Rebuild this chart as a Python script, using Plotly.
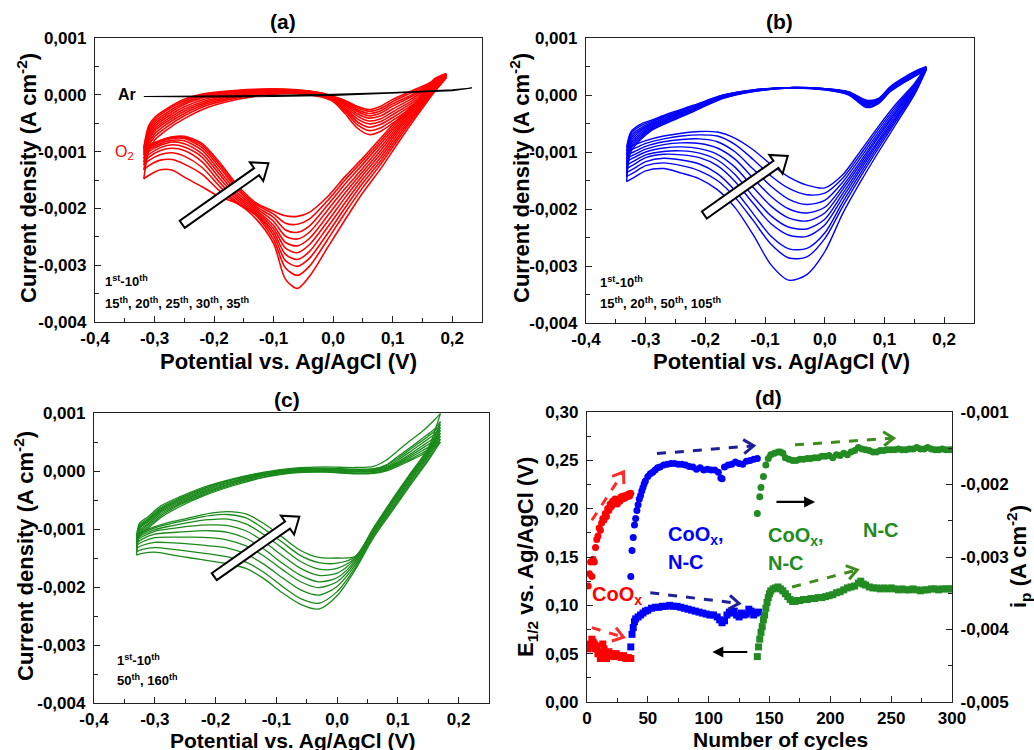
import math
import plotly.graph_objects as go

W, H = 1034, 750
FONT = "Liberation Sans, Arial, sans-serif"

# ---------------- DATA ----------------
# (a) red CVs, potentials (V) and current densities (mA cm-2)
a_E_cath = [0.19, 0.17, 0.14, 0.11, 0.08, 0.05, 0.02, -0.01, -0.04, -0.06, -0.08, -0.10, -0.13, -0.16, -0.19, -0.22, -0.25, -0.27, -0.29, -0.31, -0.318]
a_j_cath = [
    [0.30, 0.05, -0.38, -0.83, -1.30, -1.72, -2.20, -2.70, -3.20, -3.41, -3.25, -2.62, -2.18, -1.92, -1.80, -1.62, -1.45, -1.33, -1.32, -1.42, -1.48],
    [0.32, 0.08, -0.34, -0.77, -1.22, -1.63, -2.08, -2.56, -3.02, -3.18, -3.05, -2.55, -2.12, -1.92, -1.70, -1.40, -1.22, -1.14, -1.15, -1.25, -1.32],
    [0.33, 0.11, -0.31, -0.72, -1.16, -1.55, -1.99, -2.45, -2.88, -3.02, -2.92, -2.48, -2.10, -1.90, -1.62, -1.28, -1.08, -1.02, -1.05, -1.16, -1.24],
    [0.34, 0.14, -0.28, -0.67, -1.10, -1.48, -1.90, -2.34, -2.76, -2.90, -2.81, -2.42, -2.08, -1.86, -1.55, -1.18, -0.98, -0.94, -0.98, -1.10, -1.18],
    [0.35, 0.16, -0.25, -0.62, -1.04, -1.41, -1.81, -2.24, -2.64, -2.78, -2.70, -2.36, -2.05, -1.82, -1.48, -1.10, -0.92, -0.88, -0.93, -1.05, -1.12],
    [0.35, 0.19, -0.22, -0.58, -0.98, -1.35, -1.73, -2.14, -2.53, -2.66, -2.60, -2.30, -2.02, -1.78, -1.41, -1.04, -0.86, -0.83, -0.89, -1.00, -1.06],
    [0.36, 0.21, -0.19, -0.54, -0.92, -1.29, -1.65, -2.04, -2.42, -2.54, -2.49, -2.23, -1.99, -1.73, -1.35, -0.98, -0.81, -0.80, -0.86, -0.96, -1.02],
    [0.36, 0.23, -0.17, -0.50, -0.86, -1.22, -1.57, -1.95, -2.31, -2.42, -2.38, -2.16, -1.96, -1.68, -1.29, -0.93, -0.77, -0.77, -0.83, -0.93, -0.98],
    [0.37, 0.26, -0.14, -0.46, -0.81, -1.16, -1.50, -1.87, -2.19, -2.28, -2.26, -2.10, -1.93, -1.64, -1.24, -0.89, -0.75, -0.75, -0.81, -0.91, -0.95],
    [0.37, 0.28, -0.12, -0.42, -0.76, -1.11, -1.44, -1.80, -2.07, -2.14, -2.13, -2.05, -1.90, -1.60, -1.20, -0.86, -0.73, -0.74, -0.80, -0.89, -0.93],
]
a_E_anod = [-0.318, -0.31, -0.30, -0.28, -0.25, -0.21, -0.16, -0.11, -0.06, -0.02, 0.0, 0.02, 0.04, 0.06, 0.08, 0.10, 0.13, 0.16, 0.19]
a_j_anod = [
    [-1.48, -1.00, -0.80, -0.62, -0.42, -0.22, -0.08, 0.00, 0.02, -0.04, -0.12, -0.33, -0.58, -0.70, -0.64, -0.50, -0.30, -0.05, 0.30],
    [-1.32, -0.92, -0.74, -0.57, -0.37, -0.18, -0.05, 0.02, 0.03, -0.02, -0.10, -0.29, -0.52, -0.63, -0.58, -0.45, -0.25, -0.01, 0.32],
    [-1.24, -0.86, -0.69, -0.52, -0.33, -0.15, -0.03, 0.04, 0.04, -0.01, -0.09, -0.26, -0.47, -0.57, -0.52, -0.40, -0.20, 0.03, 0.33],
    [-1.18, -0.81, -0.64, -0.48, -0.29, -0.12, -0.01, 0.05, 0.05, 0.00, -0.08, -0.23, -0.42, -0.51, -0.47, -0.35, -0.16, 0.06, 0.34],
    [-1.12, -0.76, -0.60, -0.44, -0.25, -0.09, 0.01, 0.06, 0.06, 0.01, -0.07, -0.20, -0.37, -0.46, -0.42, -0.30, -0.12, 0.09, 0.35],
    [-1.06, -0.71, -0.56, -0.40, -0.21, -0.06, 0.03, 0.07, 0.07, 0.01, -0.06, -0.17, -0.33, -0.41, -0.37, -0.25, -0.08, 0.12, 0.35],
    [-1.02, -0.67, -0.52, -0.36, -0.17, -0.03, 0.05, 0.08, 0.07, 0.02, -0.05, -0.15, -0.29, -0.37, -0.32, -0.20, -0.04, 0.14, 0.36],
    [-0.98, -0.63, -0.48, -0.32, -0.14, -0.01, 0.06, 0.09, 0.08, 0.02, -0.04, -0.13, -0.26, -0.33, -0.28, -0.16, -0.01, 0.16, 0.36],
    [-0.95, -0.59, -0.44, -0.28, -0.11, 0.01, 0.07, 0.10, 0.08, 0.03, -0.03, -0.11, -0.23, -0.29, -0.24, -0.12, 0.03, 0.18, 0.37],
    [-0.93, -0.55, -0.40, -0.25, -0.08, 0.03, 0.08, 0.10, 0.09, 0.03, -0.03, -0.10, -0.20, -0.26, -0.20, -0.08, 0.06, 0.20, 0.37],
]
ar_E = [-0.318, -0.2, -0.1, 0.0, 0.1, 0.2, 0.233, 0.2, 0.1, 0.0, -0.1, -0.2, -0.318]
ar_j = [-0.03, -0.02, -0.01, 0.01, 0.04, 0.09, 0.12, 0.07, 0.03, -0.01, -0.03, -0.04, -0.03]

# (b) blue CVs
b_E_cath = [0.17, 0.15, 0.12, 0.09, 0.06, 0.03, 0.0, -0.03, -0.06, -0.09, -0.12, -0.15, -0.18, -0.21, -0.24, -0.27, -0.30, -0.32, -0.332]
b_j_cath = [
    [0.44, 0.00, -0.50, -1.00, -1.52, -2.08, -2.75, -3.15, -3.25, -2.98, -2.45, -1.98, -1.66, -1.47, -1.37, -1.29, -1.33, -1.45, -1.52],
    [0.45, 0.03, -0.45, -0.93, -1.43, -1.96, -2.52, -2.84, -2.86, -2.62, -2.20, -1.80, -1.50, -1.33, -1.24, -1.19, -1.24, -1.36, -1.43],
    [0.46, 0.06, -0.41, -0.88, -1.37, -1.88, -2.42, -2.69, -2.70, -2.48, -2.08, -1.68, -1.38, -1.21, -1.14, -1.11, -1.17, -1.29, -1.36],
    [0.47, 0.08, -0.38, -0.83, -1.31, -1.80, -2.28, -2.48, -2.46, -2.26, -1.90, -1.52, -1.24, -1.10, -1.05, -1.04, -1.10, -1.22, -1.29],
    [0.47, 0.10, -0.34, -0.79, -1.26, -1.73, -2.18, -2.35, -2.32, -2.12, -1.78, -1.40, -1.14, -1.02, -0.98, -0.99, -1.05, -1.16, -1.23],
    [0.48, 0.12, -0.30, -0.74, -1.21, -1.66, -2.07, -2.21, -2.16, -1.95, -1.62, -1.27, -1.04, -0.94, -0.91, -0.93, -1.00, -1.10, -1.17],
    [0.48, 0.14, -0.27, -0.70, -1.16, -1.60, -1.97, -2.07, -2.00, -1.78, -1.46, -1.13, -0.93, -0.85, -0.84, -0.87, -0.95, -1.05, -1.11],
    [0.49, 0.16, -0.23, -0.65, -1.10, -1.53, -1.85, -1.92, -1.83, -1.60, -1.30, -1.00, -0.82, -0.77, -0.78, -0.82, -0.90, -1.00, -1.05],
    [0.49, 0.18, -0.19, -0.60, -1.04, -1.46, -1.72, -1.75, -1.64, -1.42, -1.13, -0.87, -0.72, -0.70, -0.72, -0.77, -0.85, -0.94, -0.98],
    [0.50, 0.20, -0.15, -0.55, -0.98, -1.40, -1.63, -1.58, -1.44, -1.22, -0.96, -0.76, -0.65, -0.64, -0.67, -0.72, -0.80, -0.88, -0.92],
]
b_E_anod = [-0.332, -0.325, -0.31, -0.29, -0.26, -0.22, -0.17, -0.12, -0.06, 0.0, 0.04, 0.07, 0.09, 0.11, 0.13, 0.15, 0.17]
b_j_anod = [
    [-1.52, -1.00, -0.80, -0.62, -0.47, -0.29, -0.06, 0.06, 0.12, 0.09, 0.00, -0.22, -0.15, 0.06, 0.20, 0.32, 0.44],
    [-1.43, -0.95, -0.77, -0.60, -0.45, -0.28, -0.05, 0.06, 0.12, 0.09, 0.01, -0.20, -0.14, 0.07, 0.21, 0.33, 0.45],
    [-1.36, -0.91, -0.74, -0.58, -0.43, -0.26, -0.05, 0.07, 0.12, 0.10, 0.02, -0.18, -0.13, 0.08, 0.22, 0.34, 0.46],
    [-1.29, -0.87, -0.71, -0.56, -0.41, -0.25, -0.04, 0.07, 0.12, 0.10, 0.02, -0.17, -0.12, 0.09, 0.23, 0.35, 0.47],
    [-1.23, -0.84, -0.68, -0.54, -0.40, -0.24, -0.03, 0.07, 0.12, 0.10, 0.03, -0.15, -0.11, 0.10, 0.24, 0.36, 0.47],
    [-1.17, -0.80, -0.65, -0.52, -0.38, -0.23, -0.03, 0.08, 0.13, 0.10, 0.03, -0.14, -0.10, 0.11, 0.25, 0.37, 0.48],
    [-1.11, -0.76, -0.62, -0.50, -0.37, -0.22, -0.02, 0.08, 0.13, 0.11, 0.04, -0.13, -0.09, 0.12, 0.26, 0.38, 0.48],
    [-1.05, -0.72, -0.59, -0.48, -0.35, -0.20, -0.01, 0.08, 0.13, 0.11, 0.05, -0.11, -0.08, 0.13, 0.27, 0.39, 0.49],
    [-0.98, -0.68, -0.55, -0.46, -0.34, -0.19, 0.00, 0.09, 0.13, 0.11, 0.05, -0.10, -0.07, 0.14, 0.28, 0.40, 0.49],
    [-0.92, -0.65, -0.52, -0.44, -0.32, -0.18, 0.00, 0.09, 0.13, 0.11, 0.06, -0.09, -0.06, 0.15, 0.29, 0.41, 0.50],
]

# (c) green CVs
c_E_cath = [0.17, 0.15, 0.12, 0.09, 0.06, 0.03, 0.0, -0.03, -0.06, -0.09, -0.12, -0.15, -0.18, -0.21, -0.24, -0.27, -0.30, -0.32, -0.33]
c_j_cath = [
    [0.50, 0.18, -0.25, -0.70, -1.15, -1.70, -2.15, -2.38, -2.30, -2.10, -1.86, -1.68, -1.60, -1.55, -1.50, -1.45, -1.40, -1.42, -1.45],
    [0.55, 0.20, -0.22, -0.67, -1.12, -1.66, -2.08, -2.28, -2.20, -1.99, -1.75, -1.57, -1.48, -1.43, -1.39, -1.35, -1.32, -1.35, -1.39],
    [0.60, 0.24, -0.19, -0.64, -1.10, -1.62, -1.99, -2.14, -2.05, -1.84, -1.61, -1.43, -1.33, -1.29, -1.26, -1.24, -1.23, -1.28, -1.33],
    [0.65, 0.27, -0.16, -0.61, -1.07, -1.58, -1.91, -2.01, -1.91, -1.70, -1.47, -1.29, -1.19, -1.15, -1.14, -1.14, -1.15, -1.22, -1.28],
    [0.70, 0.30, -0.14, -0.59, -1.05, -1.55, -1.84, -1.91, -1.80, -1.59, -1.35, -1.16, -1.06, -1.03, -1.04, -1.06, -1.09, -1.17, -1.24],
    [0.75, 0.32, -0.11, -0.56, -1.03, -1.52, -1.76, -1.80, -1.68, -1.46, -1.22, -1.03, -0.94, -0.93, -0.95, -0.99, -1.04, -1.13, -1.20],
    [0.85, 0.35, -0.09, -0.54, -1.01, -1.50, -1.68, -1.69, -1.56, -1.33, -1.10, -0.91, -0.83, -0.84, -0.88, -0.94, -1.01, -1.10, -1.17],
    [0.80, 0.37, -0.07, -0.52, -0.99, -1.48, -1.59, -1.58, -1.46, -1.23, -1.00, -0.81, -0.75, -0.77, -0.83, -0.90, -0.98, -1.07, -1.14],
    [0.99, 0.40, -0.05, -0.50, -0.98, -1.47, -1.50, -1.49, -1.37, -1.14, -0.91, -0.74, -0.70, -0.73, -0.80, -0.87, -0.96, -1.05, -1.12],
]
c_E_anod = [-0.33, -0.325, -0.31, -0.29, -0.26, -0.22, -0.17, -0.12, -0.07, -0.02, 0.03, 0.06, 0.08, 0.10, 0.12, 0.14, 0.16, 0.17]
c_j_anod = [
    [-1.45, -1.12, -0.98, -0.80, -0.62, -0.43, -0.25, -0.11, -0.03, -0.02, -0.05, -0.04, 0.00, 0.08, 0.18, 0.28, 0.40, 0.50],
    [-1.39, -1.08, -0.95, -0.77, -0.59, -0.41, -0.23, -0.10, -0.02, -0.01, -0.04, -0.03, 0.01, 0.10, 0.20, 0.31, 0.44, 0.55],
    [-1.33, -1.05, -0.92, -0.74, -0.57, -0.39, -0.21, -0.08, -0.01, 0.00, -0.02, -0.01, 0.03, 0.12, 0.23, 0.35, 0.48, 0.60],
    [-1.28, -1.02, -0.90, -0.71, -0.55, -0.37, -0.20, -0.07, 0.00, 0.01, -0.01, 0.00, 0.04, 0.14, 0.26, 0.39, 0.53, 0.65],
    [-1.24, -0.99, -0.87, -0.69, -0.53, -0.35, -0.18, -0.06, 0.01, 0.02, 0.00, 0.01, 0.05, 0.16, 0.29, 0.43, 0.58, 0.70],
    [-1.20, -0.97, -0.85, -0.67, -0.51, -0.33, -0.17, -0.05, 0.02, 0.03, 0.01, 0.02, 0.07, 0.19, 0.33, 0.48, 0.63, 0.75],
    [-1.17, -0.95, -0.83, -0.65, -0.49, -0.31, -0.15, -0.04, 0.03, 0.04, 0.02, 0.03, 0.10, 0.25, 0.40, 0.56, 0.72, 0.85],
    [-1.14, -0.93, -0.81, -0.63, -0.47, -0.30, -0.14, -0.03, 0.04, 0.05, 0.03, 0.04, 0.09, 0.22, 0.37, 0.52, 0.68, 0.80],
    [-1.12, -0.90, -0.78, -0.60, -0.45, -0.28, -0.13, -0.02, 0.05, 0.07, 0.06, 0.08, 0.18, 0.35, 0.52, 0.68, 0.88, 0.99],
]

# (d) peak current i_p (mA cm-2, circles, right axis) and E1/2 (V, squares, left axis)
red_ip_n = list(range(1, 37))
red_ip = [-3.40, -3.23, -3.07, -3.27, -3.03, -3.07, -2.87, -2.76, -2.71, -2.60, -2.63, -2.53, -2.47, -2.49, -2.40, -2.44,
          -2.33, -2.36, -2.27, -2.31, -2.23, -2.27, -2.20, -2.24, -2.27, -2.20, -2.23, -2.17, -2.20, -2.16, -2.19, -2.15,
          -2.17, -2.13, -2.16, -2.12]
blue_ip_n = [36, 37, 38, 39, 40, 41, 42, 43, 44, 45, 46, 47, 48, 50, 52, 54, 56, 58, 60, 63, 66, 69, 72, 75, 78, 81, 84,
             87, 90, 93, 96, 99, 102, 105, 108, 110, 111, 113, 116, 119, 122, 125, 128, 131, 134, 137, 140]
blue_ip = [-3.27, -2.91, -2.73, -2.56, -2.47, -2.36, -2.28, -2.20, -2.15, -2.09, -2.04, -1.99, -1.95, -1.89, -1.85, -1.83,
           -1.80, -1.77, -1.76, -1.73, -1.72, -1.71, -1.71, -1.72, -1.72, -1.73, -1.75, -1.76, -1.79, -1.77, -1.80, -1.79,
           -1.80, -1.80, -1.83, -1.91, -1.92, -1.76, -1.73, -1.72, -1.69, -1.71, -1.72, -1.68, -1.67, -1.65, -1.64]
green_ip_n = [140, 142, 143, 145, 147, 149, 151, 154, 157, 159, 161, 163, 166, 169, 172, 175, 178, 181, 184, 187, 190,
              193, 196, 199, 202, 205, 208, 211, 214, 217, 220, 223, 226, 229, 232, 235, 238, 241, 244, 247, 250, 253,
              256, 259, 262, 265, 268, 271, 274, 277, 280, 283, 286, 289, 292, 295, 298, 300]
green_ip = [-2.40, -2.17, -2.04, -1.89, -1.73, -1.64, -1.59, -1.57, -1.55, -1.55, -1.57, -1.63, -1.65, -1.67, -1.67, -1.65,
            -1.65, -1.64, -1.64, -1.63, -1.63, -1.61, -1.61, -1.60, -1.63, -1.59, -1.60, -1.57, -1.59, -1.55, -1.53, -1.49,
            -1.51, -1.52, -1.53, -1.55, -1.55, -1.53, -1.53, -1.52, -1.52, -1.52, -1.51, -1.52, -1.52, -1.51, -1.51, -1.49,
            -1.51, -1.51, -1.49, -1.51, -1.52, -1.52, -1.51, -1.52, -1.52, -1.52]
red_e_n = [1, 2, 3, 4, 5, 6, 7, 8, 9, 10, 11, 12, 13, 14, 15, 16, 17, 18, 19, 20, 22, 24, 26, 28, 30, 32, 34, 36]
red_e = [0.055, 0.060, 0.058, 0.065, 0.062, 0.060, 0.055, 0.058, 0.050, 0.052, 0.045, 0.048, 0.060, 0.055, 0.050, 0.045,
         0.050, 0.052, 0.048, 0.050, 0.047, 0.050, 0.048, 0.046, 0.048, 0.045, 0.046, 0.045]
blue_e_n = [36, 37, 38, 39, 40, 42, 44, 46, 48, 50, 53, 56, 59, 62, 65, 68, 71, 74, 77, 80, 83, 86, 89, 92, 95, 98, 101,
            104, 107, 109, 111, 113, 115, 117, 119, 121, 123, 125, 127, 129, 131, 133, 135, 137, 139, 141]
blue_e = [0.057, 0.070, 0.077, 0.083, 0.086, 0.088, 0.090, 0.092, 0.094, 0.095, 0.097, 0.098, 0.098, 0.099, 0.099, 0.100,
          0.099, 0.099, 0.098, 0.097, 0.096, 0.095, 0.094, 0.093, 0.092, 0.091, 0.090, 0.090, 0.088, 0.085, 0.082, 0.084,
          0.090, 0.093, 0.092, 0.094, 0.090, 0.088, 0.092, 0.090, 0.091, 0.096, 0.094, 0.090, 0.092, 0.093]
green_e_n = [140, 141, 142, 143, 144, 145, 146, 147, 148, 149, 150, 151, 153, 155, 157, 159, 161, 163, 165, 167, 169, 171,
             173, 175, 178, 181, 184, 187, 190, 193, 196, 199, 202, 205, 208, 211, 214, 217, 220, 223, 225, 227, 229, 232,
             235, 238, 241, 244, 247, 250, 253, 256, 259, 262, 265, 268, 271, 274, 277, 280, 283, 286, 289, 292, 295, 298, 300]
green_e = [0.047, 0.057, 0.065, 0.072, 0.078, 0.085, 0.090, 0.097, 0.103, 0.108, 0.112, 0.115, 0.117, 0.118, 0.119, 0.117,
           0.115, 0.112, 0.109, 0.106, 0.104, 0.104, 0.105, 0.105, 0.106, 0.106, 0.107, 0.107, 0.108, 0.108, 0.109, 0.110,
           0.111, 0.113, 0.114, 0.116, 0.118, 0.119, 0.120, 0.123, 0.125, 0.122, 0.121, 0.119, 0.118, 0.118, 0.117, 0.118,
           0.117, 0.118, 0.117, 0.116, 0.117, 0.116, 0.116, 0.117, 0.116, 0.115, 0.116, 0.116, 0.117, 0.117, 0.116, 0.117,
           0.117, 0.117, 0.117]

# ticks
cv_xticks = [-0.4, -0.3, -0.2, -0.1, 0.0, 0.1, 0.2]
cv_xlabels = ["-0,4", "-0,3", "-0,2", "-0,1", "0,0", "0,1", "0,2"]
cv_yticks = [0.001, 0.0, -0.001, -0.002, -0.003, -0.004]
cv_ylabels = ["0,001", "0,000", "-0,001", "-0,002", "-0,003", "-0,004"]
d_xticks = [0, 50, 100, 150, 200, 250, 300]
d_yticks = [0.0, 0.05, 0.10, 0.15, 0.20, 0.25, 0.30]
d_ylabels = ["0,00", "0,05", "0,10", "0,15", "0,20", "0,25", "0,30"]
d_y2ticks = [-0.005, -0.004, -0.003, -0.002, -0.001]
d_y2labels = ["-0,005", "-0,004", "-0,003", "-0,002", "-0,001"]

# ---------------- LAYOUT GEOMETRY ----------------
BOX = {"a": (95, 38, 482, 322), "b": (586, 38, 974, 323), "c": (94, 413, 489, 703), "d": (587, 412, 952, 702)}
CV_XR = [-0.4, 0.25]
CV_YR = [-0.004, 0.001]
D_XR = [0, 300]
D_YR = [0, 0.30]

RED, BLUE, GREEN_C, GREEN_D = "#FF0000", "#0000FF", "#1A8A1A", "#228B22"


def dom(box):
    l, t, r, b = box
    return [l / W, r / W], [1 - b / H, 1 - t / H]


def mappers(box, xr, yr):
    l, t, r, b = box

    def to_px(x, y):
        return (l + (x - xr[0]) / (xr[1] - xr[0]) * (r - l), b - (y - yr[0]) / (yr[1] - yr[0]) * (b - t))

    def to_data(px, py):
        return (xr[0] + (px - l) / (r - l) * (xr[1] - xr[0]), yr[0] + (b - py) / (b - t) * (yr[1] - yr[0]))

    return to_px, to_data


fig = go.Figure()


def add_cv(Ec, jc_list, Ea, ja_list, color, xa, ya, width):
    for jc, ja in zip(jc_list, ja_list):
        for E, j in ((Ec, jc), (Ea, ja)):
            fig.add_trace(go.Scatter(x=E, y=[v * 1e-3 for v in j], mode="lines", xaxis=xa, yaxis=ya,
                                     line=dict(color=color, width=width, shape="spline", smoothing=0.8),
                                     hoverinfo="skip", showlegend=False))


add_cv(a_E_cath, a_j_cath, a_E_anod, a_j_anod, RED, "x", "y", 1.6)
fig.add_trace(go.Scatter(x=ar_E, y=[v * 1e-3 for v in ar_j], mode="lines", xaxis="x", yaxis="y",
                         line=dict(color="black", width=1.1), showlegend=False))
add_cv(b_E_cath, b_j_cath, b_E_anod, b_j_anod, BLUE, "x2", "y2", 1.4)
add_cv(c_E_cath, c_j_cath, c_E_anod, c_j_anod, GREEN_C, "x3", "y3", 1.3)

# panel d: squares on left axis (E1/2), circles on right axis (i_p)
for n, v, col in ((red_e_n, red_e, RED), (blue_e_n, blue_e, BLUE), (green_e_n, green_e, GREEN_D)):
    fig.add_trace(go.Scatter(x=n, y=v, mode="markers", xaxis="x4", yaxis="y4",
                             marker=dict(symbol="square", size=7, color=col), showlegend=False))
for n, v, col in ((red_ip_n, red_ip, RED), (blue_ip_n, blue_ip, BLUE), (green_ip_n, green_ip, GREEN_D)):
    fig.add_trace(go.Scatter(x=n, y=[x * 1e-3 for x in v], mode="markers", xaxis="x4", yaxis="y5",
                             marker=dict(symbol="circle", size=7, color=col), showlegend=False))

# ---------------- AXES ----------------
TICKFONT = dict(family=FONT, size=17, color="black", weight="bold")


def axis(range_, tickvals, ticktext, minorvals, domain, anchor, side=None, mirror=True, overlaying=None, standoff=4):
    d = dict(range=range_, tickmode="array", tickvals=tickvals, ticktext=ticktext, domain=domain, anchor=anchor,
             showline=True, linecolor="#222222", linewidth=1.3, mirror=mirror, ticks="inside", ticklen=6,
             tickwidth=1.2, tickcolor="#222222", showgrid=False, zeroline=False, tickfont=TICKFONT,
             automargin=False, ticklabelstandoff=standoff,
             minor=dict(ticks="inside", ticklen=3.5, tickwidth=1, tickcolor="#222222", tickmode="array",
                        tickvals=minorvals, showgrid=False))
    if side:
        d["side"] = side
    if overlaying:
        d["overlaying"] = overlaying
        d.pop("domain")
    return d


cv_xminor = [-0.35, -0.25, -0.15, -0.05, 0.05, 0.15]
cv_yminor = [0.0005, -0.0005, -0.0015, -0.0025, -0.0035]
layout_axes = {}
for i, key in enumerate(["a", "b", "c"]):
    sfx = "" if i == 0 else str(i + 1)
    xd, yd = dom(BOX[key])
    layout_axes["xaxis" + sfx] = axis(CV_XR, cv_xticks, cv_xlabels, cv_xminor, xd, "y" + sfx, standoff=0)
    layout_axes["yaxis" + sfx] = axis(CV_YR, cv_yticks, cv_ylabels, cv_yminor, yd, "x" + sfx)

xd, yd = dom(BOX["d"])
layout_axes["xaxis4"] = axis(D_XR, d_xticks, [str(v) for v in d_xticks], [25, 75, 125, 175, 225, 275], xd, "y4",
                             standoff=0)
layout_axes["yaxis4"] = axis(D_YR, d_yticks, d_ylabels, [0.025, 0.075, 0.125, 0.175, 0.225, 0.275], yd, "x4",
                             mirror=False)
layout_axes["yaxis5"] = axis([-0.005, -0.001], d_y2ticks, d_y2labels, [-0.0045, -0.0035, -0.0025, -0.0015], None, "x4",
                             side="right", mirror=False, overlaying="y4")

# ---------------- ANNOTATIONS ----------------
ann = []


def ptext(px, py, text, size, angle=0, bold=True, color="black", xanchor="center"):
    ann.append(dict(x=px / W, y=1 - py / H, xref="paper", yref="paper", text=text, showarrow=False,
                    textangle=angle, xanchor=xanchor, yanchor="middle",
                    font=dict(family=FONT, size=size, color=color, weight="bold" if bold else "normal")))


ycv = "Current density (A cm<sup>-2</sup>)"
xcv = "Potential vs. Ag/AgCl (V)"
ptext(283, 22, "(a)", 21)
ptext(779, 22, "(b)", 21)
ptext(287, 399, "(c)", 21)
ptext(768, 398, "(d)", 21)
ptext(27, 178, ycv, 22, -90)
ptext(520, 178, ycv, 22, -90)
ptext(24, 556, ycv, 22, -90)
ptext(288, 361, xcv, 22)
ptext(781, 361, xcv, 22)
ptext(292, 740, xcv, 21)
ptext(780, 739, "Number of cycles", 21)
ptext(527, 557, "E<sub>1/2</sub> vs. Ag/AgCl (V)", 22, -90)
ptext(1018, 557, "i<sub>p</sub> (A cm<sup>-2</sup>)", 22, -90)

ptext(103, 281, "1<sup>st</sup>-10<sup>th</sup>", 13, xanchor="left")
ptext(103, 303, "15<sup>th</sup>, 20<sup>th</sup>, 25<sup>th</sup>, 30<sup>th</sup>, 35<sup>th</sup>", 13, xanchor="left")
ptext(598, 282, "1<sup>st</sup>-10<sup>th</sup>", 13, xanchor="left")
ptext(598, 303, "15<sup>th</sup>, 20<sup>th</sup>, 50<sup>th</sup>, 105<sup>th</sup>", 13, xanchor="left")
ptext(115, 660, "1<sup>st</sup>-10<sup>th</sup>", 13, xanchor="left")
ptext(115, 680, "50<sup>th</sup>, 160<sup>th</sup>", 13, xanchor="left")

ann.append(dict(x=-0.347, y=0.0, xref="x", yref="y", text="Ar", showarrow=False,
                font=dict(family=FONT, size=16, color="black", weight="bold")))
ann.append(dict(x=-0.35, y=-0.00102, xref="x", yref="y", text="O<sub>2</sub>", showarrow=False,
                font=dict(family=FONT, size=16, color=RED)))


def dtext(x, y, text, color, xanchor="center"):
    ann.append(dict(x=x, y=y, xref="x4", yref="y4", text=text, showarrow=False, xanchor=xanchor,
                    font=dict(family=FONT, size=20, color=color, weight="bold")))


dtext(24.5, 0.110, "CoO<sub>x</sub>", RED)
dtext(65, 0.172, "CoO<sub>x</sub>,", BLUE, "left")
dtext(65, 0.145, "N-C", BLUE, "left")
dtext(147, 0.171, "CoO<sub>x</sub>,", GREEN_D, "left")
dtext(147, 0.144, "N-C", GREEN_D, "left")
dtext(242, 0.178, "N-C", GREEN_D)

shapes = []
d_px, d_data = mappers(BOX["d"], D_XR, D_YR)


def dashed_arrow(x0, y0, x1, y1, color):
    shapes.append(dict(type="line", xref="x4", yref="y4", x0=x0, y0=y0, x1=x1, y1=y1,
                       line=dict(color=color, width=3, dash="dash")))
    # open chevron head
    p0 = d_px(x0, y0)
    p1 = d_px(x1, y1)
    L = math.hypot(p1[0] - p0[0], p1[1] - p0[1])
    ux, uy = (p1[0] - p0[0]) / L, (p1[1] - p0[1]) / L
    nx, ny = -uy, ux
    hl, hw = 10, 7
    a = d_data(p1[0] - ux * hl + nx * hw, p1[1] - uy * hl + ny * hw)
    b = d_data(p1[0] - ux * hl - nx * hw, p1[1] - uy * hl - ny * hw)
    path = f"M {a[0]:.4f},{a[1]:.6f} L {x1:.4f},{y1:.6f} L {b[0]:.4f},{b[1]:.6f}"
    shapes.append(dict(type="path", path=path, xref="x4", yref="y4", line=dict(color=color, width=3)))


dashed_arrow(4, 0.188, 30, 0.238, "#FF2A2A")
dashed_arrow(4, 0.077, 30, 0.067, "#FF2A2A")
dashed_arrow(57.5, 0.257, 137, 0.265, "#1F1F99")
dashed_arrow(52, 0.113, 125, 0.102, "#1F1F99")
dashed_arrow(171, 0.266, 252, 0.273, "#3C8C1E")
dashed_arrow(168.6, 0.119, 222, 0.1366, "#3C8C1E")

for (x0, x1, y) in ((154.5, 187.5, 0.207), (133, 103, 0.0517)):
    ann.append(dict(x=x1, y=y, ax=x0, ay=y, xref="x4", yref="y4", axref="x4", ayref="y4", text="",
                    showarrow=True, arrowhead=2, arrowsize=1, arrowwidth=2.2, arrowcolor="black"))


# hollow block arrows in CV panels
def block_arrow(box, xr, yr, tail, tip, xref, yref, shaft=4.3, head=11.5, head_len=14.5):
    to_px, to_data = mappers(box, xr, yr)
    x0, y0 = to_px(*tail)
    x1, y1 = to_px(*tip)
    L = math.hypot(x1 - x0, y1 - y0)
    ux, uy = (x1 - x0) / L, (y1 - y0) / L
    nx, ny = -uy, ux
    bx, by = x1 - ux * head_len, y1 - uy * head_len
    pts = [(x0 + nx * shaft, y0 + ny * shaft), (bx + nx * shaft, by + ny * shaft), (bx + nx * head, by + ny * head),
           (x1, y1), (bx - nx * head, by - ny * head), (bx - nx * shaft, by - ny * shaft),
           (x0 - nx * shaft, y0 - ny * shaft)]
    dpts = [to_data(px, py) for px, py in pts]
    path = "M " + " L ".join(f"{X:.6f},{Y:.8f}" for X, Y in dpts) + " Z"
    shapes.append(dict(type="path", path=path, xref=xref, yref=yref, fillcolor="white",
                       line=dict(color="black", width=2), layer="above"))


block_arrow(BOX["a"], CV_XR, CV_YR, (-0.2535, -0.00228), (-0.1087, -0.001206), "x", "y")
block_arrow(BOX["b"], CV_XR, CV_YR, (-0.2017, -0.002105), (-0.062, -0.00107), "x2", "y2")
block_arrow(BOX["c"], CV_XR, CV_YR, (-0.2022, -0.001822), (-0.0621, -0.000788), "x3", "y3")

fig.update_layout(
    width=W, height=H, margin=dict(l=0, r=0, t=0, b=0, pad=0),
    paper_bgcolor="white", plot_bgcolor="white", showlegend=False, separators=",.",
    font=dict(family=FONT, color="black"),
    annotations=ann, shapes=shapes, **layout_axes,
)

fig.write_html("out.html", config={"displayModeBar": False},
               post_script="document.body.style.margin='0px';")
